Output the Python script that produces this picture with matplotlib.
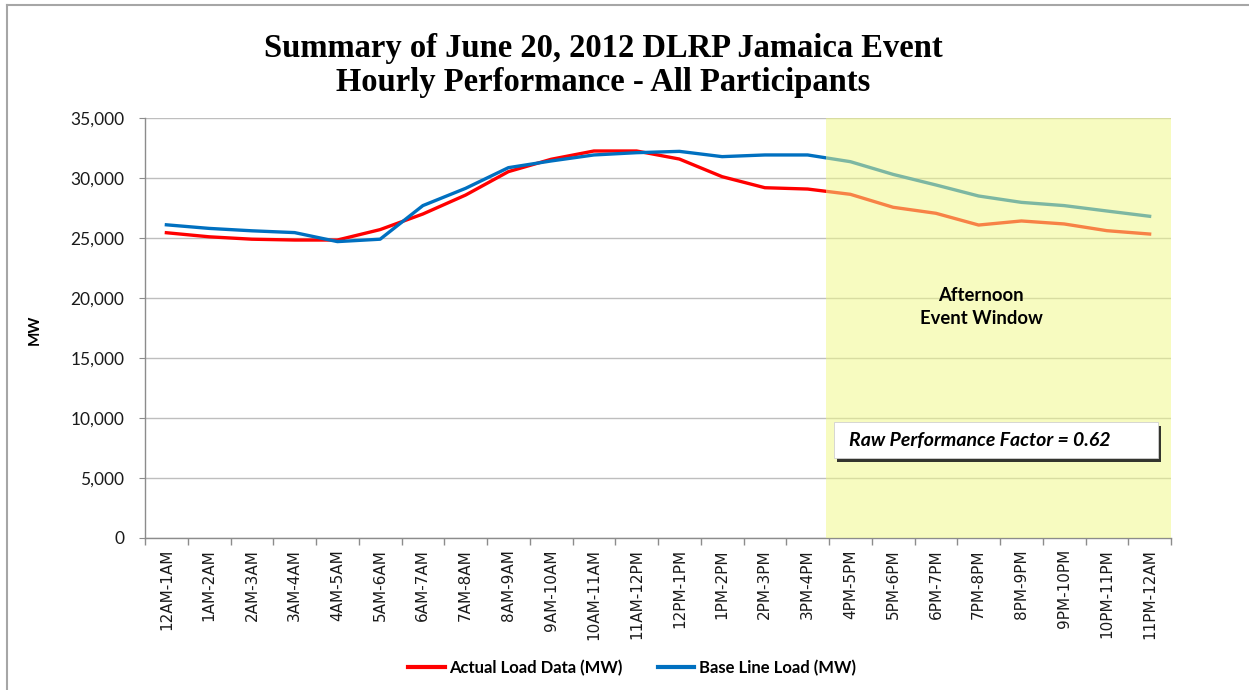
import matplotlib
matplotlib.use("Agg")
import matplotlib.pyplot as plt
from matplotlib.lines import Line2D
from matplotlib.patches import FancyBboxPatch, Rectangle
from matplotlib.ticker import FuncFormatter, MultipleLocator

hours = ["12AM-1AM", "1AM-2AM", "2AM-3AM", "3AM-4AM", "4AM-5AM", "5AM-6AM",
         "6AM-7AM", "7AM-8AM", "8AM-9AM", "9AM-10AM", "10AM-11AM", "11AM-12PM",
         "12PM-1PM", "1PM-2PM", "2PM-3PM", "3PM-4PM", "4PM-5PM", "5PM-6PM",
         "6PM-7PM", "7PM-8PM", "8PM-9PM", "9PM-10PM", "10PM-11PM", "11PM-12AM"]

actual_load = [25440, 25100, 24900, 24830, 24830, 25700, 27000, 28580,
               30530, 31560, 32250, 32250, 31580, 30110, 29190, 29080,
               28640, 27560, 27060, 26080, 26420, 26170, 25610, 25330]

baseline_load = [26100, 25800, 25600, 25450, 24700, 24900, 27700, 29140,
                 30860, 31420, 31920, 32110, 32220, 31780, 31920, 31920,
                 31360, 30300, 29420, 28500, 27970, 27700, 27250, 26810]

event_start = 15.43  # the afternoon window begins just before 4PM

W, H = 1249, 690
fig = plt.figure(figsize=(W / 100, H / 100), dpi=100)
ax = fig.add_axes([145 / W, 1 - 538 / H, (1171 - 145) / W, (538 - 118) / H])

x = list(range(len(hours)))
ax.plot(x, actual_load, color="#FF0000", lw=2.4, solid_joinstyle="round", zorder=3,
        label="Actual Load Data (MW)")
ax.plot(x, baseline_load, color="#0070C0", lw=2.4, solid_joinstyle="round", zorder=3,
        label="Base Line Load (MW)")

# translucent event-window shading laid over the lines
ax.add_patch(Rectangle((event_start, 0), len(hours) - 0.5 - event_start, 35000,
                       facecolor=(240 / 255, 248 / 255, 135 / 255), alpha=0.525,
                       edgecolor="none", zorder=4))

ax.set_xlim(-0.5, len(hours) - 0.5)
ax.set_ylim(0, 35000)
ax.yaxis.set_major_locator(MultipleLocator(5000))
ax.yaxis.set_major_formatter(FuncFormatter(lambda v, p: f"{int(v):,}"))
ax.grid(axis="y", color="#BEBEBE", lw=1.0, zorder=1)
ax.set_axisbelow(True)

ax.set_xticks(x)
ax.set_xticklabels(hours, rotation=90, fontsize=11, family="DejaVu Sans",
                   color="#1a1a1a")
ax.set_xticks([i - 0.5 for i in range(len(hours) + 1)], minor=True)
ax.tick_params(axis="x", which="major", length=0, pad=8)
ax.tick_params(axis="x", which="minor", length=5, color="#8C8C8C", width=1)
ax.tick_params(axis="y", length=4, color="#8C8C8C", labelsize=12.5, pad=11)
for lab in ax.get_yticklabels():
    lab.set_family("Lato")
    lab.set_color("#1a1a1a")

for s in ("top", "right"):
    ax.spines[s].set_visible(False)
for s in ("left", "bottom"):
    ax.spines[s].set_color("#8C8C8C")
    ax.spines[s].set_linewidth(1.0)

fig.text(35 / W, 1 - 330 / H, "MW", rotation=90, ha="center", va="center",
         fontsize=11, fontweight="bold", family="Lato")

fig.text(603 / W, 1 - 48 / H, "Summary of June 20, 2012 DLRP Jamaica Event",
         ha="center", va="center", fontsize=23.5, fontweight="bold",
         family="Liberation Serif")
fig.text(603 / W, 1 - 83 / H, "Hourly Performance - All Participants",
         ha="center", va="center", fontsize=23.5, fontweight="bold",
         family="Liberation Serif")

fig.text(981 / W, 1 - 307 / H, "Afternoon\nEvent Window", ha="center", va="center",
         fontsize=13.3, fontweight="bold", family="Lato", linespacing=1.4, zorder=6)

# performance factor call-out with drop shadow
bx0, by0, bx1, by1 = 834, 422, 1158, 458
shadow = FancyBboxPatch(((bx0 + 3) / W, 1 - (by1 + 4) / H), (bx1 - bx0) / W,
                        (by1 - by0) / H, boxstyle="square,pad=0",
                        transform=fig.transFigure, facecolor="#1f1f1f",
                        edgecolor="none", alpha=0.9, zorder=7)
box = FancyBboxPatch((bx0 / W, 1 - by1 / H), (bx1 - bx0) / W, (by1 - by0) / H,
                     boxstyle="square,pad=0", transform=fig.transFigure,
                     facecolor="white", edgecolor="#D0D0D0", lw=0.6, zorder=8)
fig.add_artist(shadow)
fig.add_artist(box)
fig.text(849 / W, 1 - 440 / H, "Raw Performance Factor = 0.62", ha="left",
         va="center", fontsize=14, fontweight="bold", style="italic",
         family="Lato", zorder=9)

leg = fig.legend(loc="center", bbox_to_anchor=(632 / W, 1 - 668 / H), ncol=2,
                 frameon=False, handlelength=2.2, handletextpad=0.25,
                 columnspacing=2.1, prop={"family": "Lato", "weight": "bold",
                                          "size": 12})
for h in leg.get_lines():
    h.set_linewidth(3)

# chart frame
fig.add_artist(Line2D([7 / W, 7 / W], [0, 1 - 5 / H], transform=fig.transFigure,
                      color="#A6A6A6", lw=1.5))
fig.add_artist(Line2D([7 / W, 1], [1 - 5 / H, 1 - 5 / H], transform=fig.transFigure,
                      color="#A6A6A6", lw=1.5))

fig.savefig("out.png", dpi=100, facecolor="white")
